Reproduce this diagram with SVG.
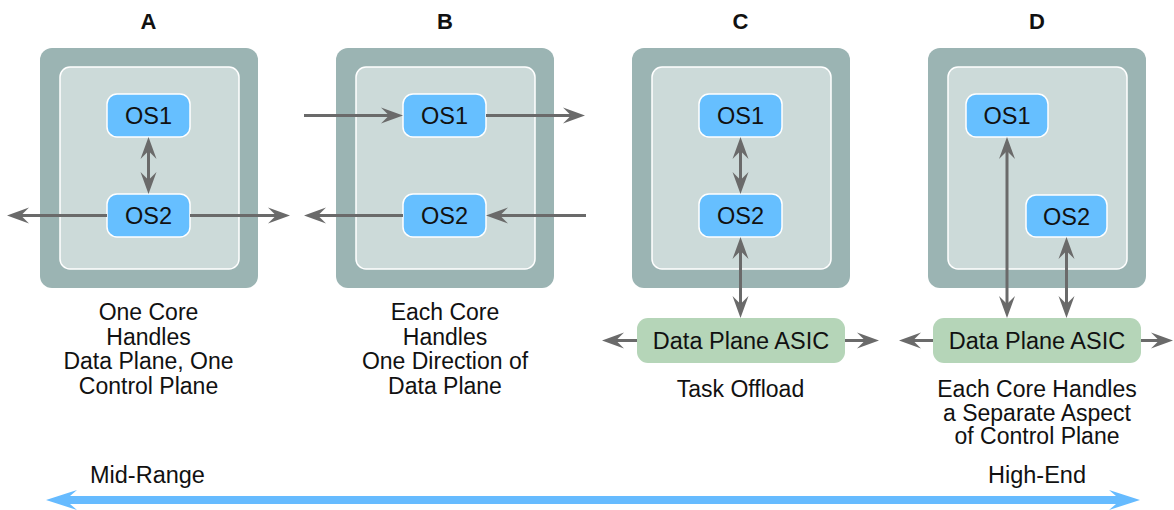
<svg xmlns="http://www.w3.org/2000/svg" width="1174" height="510" viewBox="0 0 1174 510">
  <defs>
    <style>
      text { font-family: "Liberation Sans", Arial, sans-serif; fill: #111; }
      .title { font-size: 22px; font-weight: bold; text-anchor: middle; }
      .lbl { font-size: 23.5px; text-anchor: middle; }
      .cap { font-size: 23px; text-anchor: middle; }
      .side { font-size: 23.5px; }
      .outer { fill: #9bb4b3; }
      .inner { fill: #ccdad9; stroke: #ffffff; stroke-width: 1.5; }
      .os { fill: #66bfff; stroke: #ffffff; stroke-width: 1.5; }
      .asic { fill: #b5d5b8; }
      .conn line { stroke: #6a6a6a; stroke-width: 3; fill: none; }
      .one { marker-end: url(#head); }
      .two { marker-start: url(#head); marker-end: url(#head); }
    </style>
    <marker id="head" viewBox="-14 -10 28 20" markerWidth="28" markerHeight="20" refX="0" refY="0" markerUnits="userSpaceOnUse" orient="auto-start-reverse" overflow="visible">
      <path d="M10,0 L-12,-8 L-4,0 L-12,8 Z" fill="#6a6a6a"/>
    </marker>
  </defs>

  <!-- column titles -->
  <text class="title" x="148.5" y="29">A</text>
  <text class="title" x="445" y="29">B</text>
  <text class="title" x="740.5" y="29">C</text>
  <text class="title" x="1037" y="29">D</text>

  <!-- A: one core data plane, one control plane -->
  <g id="boardA">
    <rect class="outer" x="40" y="48" width="218" height="240" rx="12"/>
    <rect class="inner" x="60" y="67" width="179" height="202" rx="10"/>
  </g>
  <g id="A-os1">
    <rect class="os" x="107" y="94" width="83" height="43" rx="10"/>
    <text class="lbl" x="148.5" y="124">OS1</text>
  </g>
  <g id="A-os2">
    <rect class="os" x="107" y="194" width="83" height="43" rx="10"/>
    <text class="lbl" x="148.5" y="224">OS2</text>
  </g>

  <!-- B: each core handles one direction -->
  <g id="boardB">
    <rect class="outer" x="336" y="48" width="218" height="240" rx="12"/>
    <rect class="inner" x="356" y="67" width="179" height="202" rx="10"/>
  </g>
  <g id="B-os1">
    <rect class="os" x="403" y="94" width="83" height="43" rx="10"/>
    <text class="lbl" x="444.5" y="124">OS1</text>
  </g>
  <g id="B-os2">
    <rect class="os" x="403" y="194" width="83" height="43" rx="10"/>
    <text class="lbl" x="444.5" y="224">OS2</text>
  </g>

  <!-- C: task offload -->
  <g id="boardC">
    <rect class="outer" x="632" y="48" width="218" height="240" rx="12"/>
    <rect class="inner" x="652" y="67" width="179" height="202" rx="10"/>
  </g>
  <g id="C-os1">
    <rect class="os" x="699" y="94" width="83" height="43" rx="10"/>
    <text class="lbl" x="740.5" y="124">OS1</text>
  </g>
  <g id="C-os2">
    <rect class="os" x="699" y="194" width="83" height="43" rx="10"/>
    <text class="lbl" x="740.5" y="224">OS2</text>
  </g>
  <g id="C-asic">
    <rect class="asic" x="637" y="318" width="208" height="45" rx="11"/>
    <text class="lbl" x="741" y="349">Data Plane ASIC</text>
  </g>

  <!-- D: separate control plane aspects -->
  <g id="boardD">
    <rect class="outer" x="928" y="48" width="218" height="240" rx="12"/>
    <rect class="inner" x="948" y="67" width="179" height="202" rx="10"/>
  </g>
  <g id="D-os1">
    <rect class="os" x="966" y="94" width="82" height="43" rx="10"/>
    <text class="lbl" x="1007" y="124">OS1</text>
  </g>
  <g id="D-os2">
    <rect class="os" x="1026" y="195" width="81" height="42" rx="10"/>
    <text class="lbl" x="1066.5" y="224.5">OS2</text>
  </g>
  <g id="D-asic">
    <rect class="asic" x="933" y="318" width="208" height="45" rx="11"/>
    <text class="lbl" x="1037" y="349">Data Plane ASIC</text>
  </g>

  <!-- connectors -->
  <g id="connectors" class="conn">
    <!-- A -->
    <line class="two" x1="148.5" y1="147" x2="148.5" y2="184"/>
    <line class="one" x1="107" y1="215.5" x2="17" y2="215.5"/>
    <line class="one" x1="190" y1="215.5" x2="280" y2="215.5"/>
    <!-- B -->
    <line class="one" x1="304" y1="115.5" x2="393" y2="115.5"/>
    <line class="one" x1="486" y1="115.5" x2="575" y2="115.5"/>
    <line class="one" x1="586" y1="215.5" x2="496" y2="215.5"/>
    <line class="one" x1="403" y1="215.5" x2="314" y2="215.5"/>
    <!-- C -->
    <line class="two" x1="740.5" y1="147" x2="740.5" y2="184"/>
    <line class="two" x1="740.5" y1="247" x2="740.5" y2="308"/>
    <line class="one" x1="637" y1="340.5" x2="612" y2="340.5"/>
    <line class="one" x1="845" y1="340.5" x2="869" y2="340.5"/>
    <!-- D -->
    <line class="two" x1="1007" y1="147" x2="1007" y2="308"/>
    <line class="two" x1="1066.5" y1="247" x2="1066.5" y2="308"/>
    <line class="one" x1="933" y1="340.5" x2="909" y2="340.5"/>
    <line class="one" x1="1141" y1="340.5" x2="1163" y2="340.5"/>
  </g>

  <!-- captions -->
  <text class="cap" x="148.5" y="320">One Core</text>
  <text class="cap" x="148.5" y="344.5">Handles</text>
  <text class="cap" x="148.5" y="369">Data Plane, One</text>
  <text class="cap" x="148.5" y="393.5">Control Plane</text>

  <text class="cap" x="445" y="320">Each Core</text>
  <text class="cap" x="445" y="344.5">Handles</text>
  <text class="cap" x="445" y="369">One Direction of</text>
  <text class="cap" x="445" y="393.5">Data Plane</text>

  <text class="cap" x="740.5" y="397">Task Offload</text>

  <text class="cap" x="1037" y="397">Each Core Handles</text>
  <text class="cap" x="1037" y="420.5">a Separate Aspect</text>
  <text class="cap" x="1037" y="444">of Control Plane</text>

  <!-- range scale -->
  <text class="side" x="90" y="483">Mid-Range</text>
  <text class="side" x="988" y="483">High-End</text>
  <path d="M46,500 L77,490 L70,496 L1116,496 L1109,490 L1140,500 L1109,510 L1116,504 L70,504 L77,510 Z" fill="#66bbff"/>
</svg>
